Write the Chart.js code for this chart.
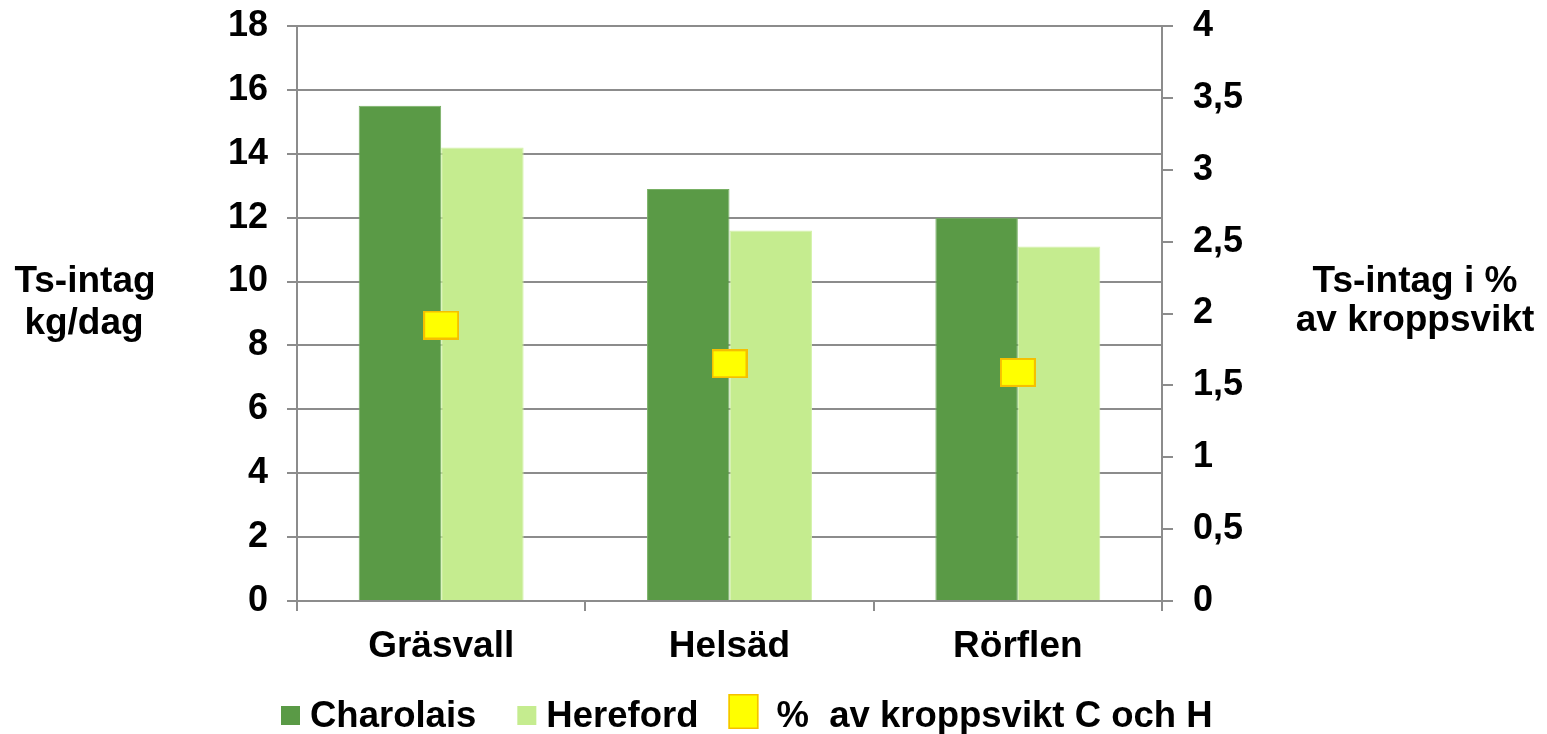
<!DOCTYPE html>
<html lang="sv">
<head>
<meta charset="utf-8">
<title>Ts-intag</title>
<script src="https://cdn.jsdelivr.net/npm/chart.js@4/dist/chart.umd.min.js"></script>
<style>
  html, body { margin: 0; padding: 0; background: #ffffff; }
  #wrap { position: relative; width: 1547px; height: 734px; }
</style>
</head>
<body>
<div id="wrap"><canvas id="chart"></canvas></div>
<script>
// Torrsubstansintag per foderslag
const categories = ['Gräsvall', 'Helsäd', 'Rörflen'];
const charolais = [15.5, 12.9, 12.0];        // kg/dag
const hereford = [14.2, 11.6, 11.1];         // kg/dag
const pctBodyWeight = [1.92, 1.65, 1.59];    // % av kroppsvikt, C och H
const seriesNames = ['Charolais', 'Hereford', '%  av kroppsvikt C och H'];
const leftTitle = ['Ts-intag', 'kg/dag'];
const rightTitle = ['Ts-intag i %', 'av kroppsvikt'];

const FONT = "'Liberation Sans', Arial, Helvetica, sans-serif";
const AXIS_GREY = '#8c8c8c';
const C_DARK = '#5a9a46';
const C_LIGHT = '#c5ec8f';
const MARK_FILL = '#ffff00';
const MARK_EDGE = '#f5c000';

// Rectangular marker for the percentage series
function makeMarker(w, h) {
  const c = document.createElement('canvas');
  c.width = w; c.height = h;
  const g = c.getContext('2d');
  g.fillStyle = MARK_FILL;
  g.fillRect(0, 0, w, h);
  g.strokeStyle = MARK_EDGE;
  g.lineWidth = 2;
  g.strokeRect(1, 1, w - 2, h - 2);
  return c;
}
const marker = makeMarker(36, 29);

// Horizontal axis titles on both sides of the plot
const sideTitles = {
  id: 'sideTitles',
  afterDraw(chart) {
    const ctx = chart.ctx;
    ctx.save();
    ctx.fillStyle = '#000';
    ctx.font = 'bold 37px ' + FONT;
    ctx.textAlign = 'center';
    ctx.textBaseline = 'alphabetic';
    ctx.fillText(leftTitle[0], 85, 292);
    ctx.fillText(leftTitle[1], 84, 334);
    ctx.fillText(rightTitle[0], 1415, 292);
    ctx.fillText(rightTitle[1], 1415, 331);
    ctx.restore();
  }
};

// Legend row under the category labels
const bottomLegend = {
  id: 'bottomLegend',
  afterDraw(chart) {
    const ctx = chart.ctx;
    const ds = chart.data.datasets;
    ctx.save();
    ctx.font = 'bold 36.5px ' + FONT;
    ctx.textBaseline = 'alphabetic';
    ctx.fillStyle = '#000';
    const midY = 715;
    let x = 281;
    ds.forEach((d, i) => {
      const isMarker = d.type === 'line';
      if (isMarker) {
        x += 30 - 41;
        ctx.fillStyle = MARK_FILL;
        ctx.fillRect(x, 694, 30, 35);
        ctx.strokeStyle = MARK_EDGE;
        ctx.lineWidth = 1.5;
        ctx.strokeRect(x + 0.75, 694.75, 28.5, 33.5);
        x += 30 + 18;
      } else {
        ctx.fillStyle = d.backgroundColor;
        ctx.fillRect(x, midY - 9, 19, 19);
        x += 19 + 10;
      }
      ctx.fillStyle = '#000';
      ctx.fillText(d.label, x, 727);
      x += ctx.measureText(d.label).width + 41;
    });
    ctx.restore();
  }
};

new Chart(document.getElementById('chart'), {
  type: 'bar',
  data: {
    labels: categories,
    datasets: [
      {
        label: seriesNames[0],
        data: charolais,
        backgroundColor: C_DARK,
        borderColor: '#78b064',
        borderWidth: 1,
        yAxisID: 'y',
        order: 1
      },
      {
        label: seriesNames[1],
        data: hereford,
        backgroundColor: C_LIGHT,
        borderColor: '#d3f2a8',
        borderWidth: 1,
        yAxisID: 'y',
        order: 1
      },
      {
        type: 'line',
        label: seriesNames[2],
        data: pctBodyWeight,
        yAxisID: 'y1',
        showLine: false,
        pointStyle: marker,
        pointRadius: 12,
        pointHoverRadius: 12,
        backgroundColor: MARK_FILL,
        borderColor: MARK_EDGE,
        order: 0
      }
    ]
  },
  options: {
    responsive: true,
    maintainAspectRatio: false,
    animation: false,
    layout: { padding: { top: 26, left: 0, right: 0, bottom: 0 } },
    datasets: {
      bar: { categoryPercentage: 0.572, barPercentage: 1.0 }
    },
    plugins: {
      legend: { display: false },
      tooltip: { enabled: false },
      title: { display: false }
    },
    scales: {
      x: {
        grid: {
          display: true,
          offset: true,
          drawOnChartArea: false,
          drawTicks: true,
          tickLength: 10,
          color: AXIS_GREY,
          lineWidth: 2
        },
        border: { display: true, color: AXIS_GREY, width: 2 },
        ticks: {
          color: '#000',
          padding: 14,
          font: { family: FONT, size: 37, weight: 'bold' }
        },
        afterFit(s) { s.height = 133; }
      },
      y: {
        position: 'left',
        min: 0,
        max: 18,
        ticks: {
          stepSize: 2,
          color: '#000',
          padding: 19,
          font: { family: FONT, size: 36, weight: 'bold', lineHeight: 0.2 }
        },
        grid: {
          color: AXIS_GREY,
          lineWidth: 2,
          tickLength: 10
        },
        border: { display: true, color: AXIS_GREY, width: 2 },
        afterFit(s) { s.width = 297; }
      },
      y1: {
        position: 'right',
        min: 0,
        max: 4,
        ticks: {
          stepSize: 0.5,
          color: '#000',
          padding: 20,
          font: { family: FONT, size: 36, weight: 'bold', lineHeight: 0.2 },
          callback: v => String(v).replace('.', ',')
        },
        grid: {
          drawOnChartArea: false,
          color: AXIS_GREY,
          lineWidth: 2,
          tickLength: 11
        },
        border: { display: true, color: AXIS_GREY, width: 2 },
        afterFit(s) { s.width = 385; }
      }
    }
  },
  plugins: [sideTitles, bottomLegend]
});
</script>
</body>
</html>
